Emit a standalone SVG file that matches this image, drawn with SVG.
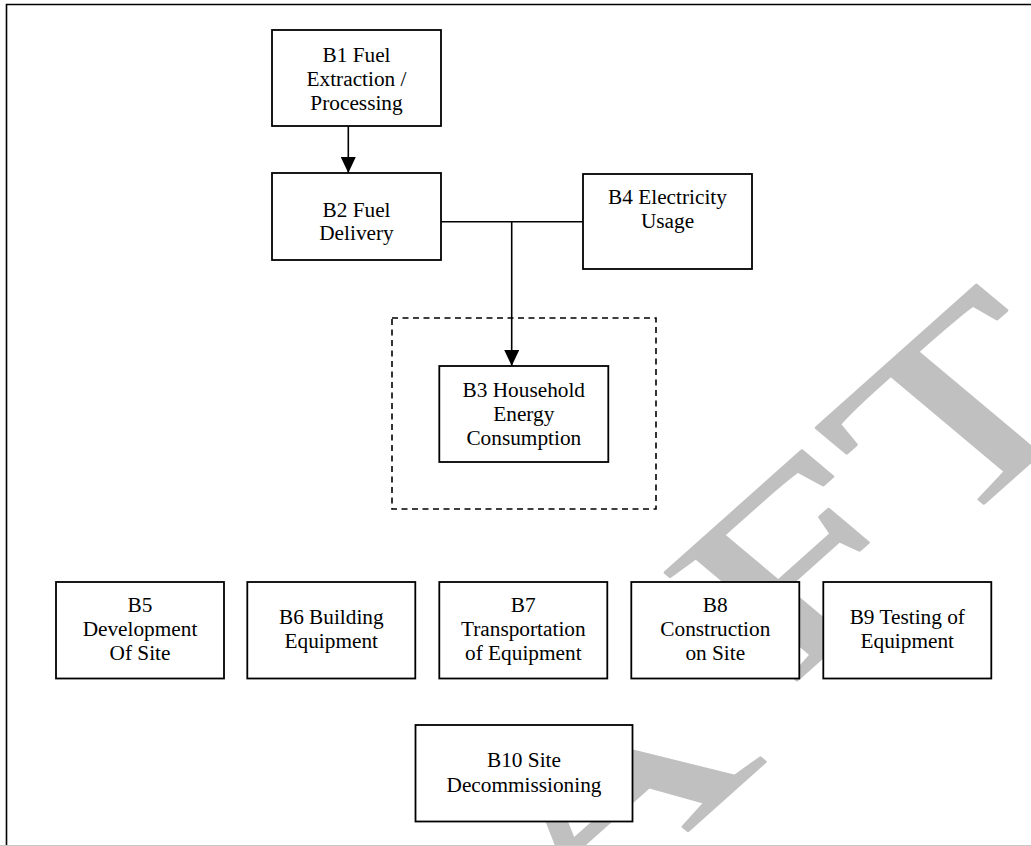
<svg xmlns="http://www.w3.org/2000/svg" width="1031" height="846" viewBox="0 0 1031 846">
<style>
.box{fill:#fff;stroke:#000;stroke-width:1.8}
.lbl{font-family:"Liberation Serif","Times New Roman",serif;font-size:21.3px;fill:#000;text-anchor:middle}
.conn{fill:none;stroke:#000;stroke-width:1.6}
.wm{font-family:"Liberation Serif","Times New Roman",serif;font-size:100px;fill:#c0c0c0;stroke:#c0c0c0;stroke-width:1;stroke-linejoin:round}
</style>
<defs>
<marker id="arr" markerUnits="userSpaceOnUse" markerWidth="16" markerHeight="15" refX="16" refY="7.5" orient="auto">
<path d="M0,0 L16,7.5 L0,15 Z" fill="#000"/>
</marker>
</defs>
<rect width="1031" height="846" fill="#fff"/>
<g id="watermark">
<text class="wm" transform="matrix(2.77,-2.47,1.99,1.67,203,1200)"><tspan x="-50.7" y="47">D</tspan><tspan x="36.5" y="33">R</tspan><tspan x="118.2" y="18.4">A</tspan><tspan x="209" y="2.9">F</tspan><tspan x="266.7" y="0">T</tspan></text>
</g>
<g id="frame">
<path d="M6.5,846 V4.5 H1031" fill="none" stroke="#000" stroke-width="1.6"/>
<line x1="0" y1="845.5" x2="1031" y2="845.5" stroke="#c8c8c8" stroke-width="1"/>
</g>
<g id="container">
<rect x="392" y="318" width="264" height="191" fill="none" stroke="#000" stroke-width="1.6" stroke-dasharray="6 4.5"/>
</g>
<g id="connectors">
<line class="conn" x1="348.3" y1="126" x2="348.3" y2="173" marker-end="url(#arr)"/>
<line class="conn" x1="441" y1="221.7" x2="583" y2="221.7"/>
<line class="conn" x1="511.7" y1="221.7" x2="511.7" y2="366" marker-end="url(#arr)"/>
</g>
<g id="B1">
<rect class="box" x="272" y="30" width="169" height="96"/>
<text class="lbl" x="356.5" y="62">B1 Fuel</text>
<text class="lbl" x="356.5" y="86">Extraction /</text>
<text class="lbl" x="356.5" y="110">Processing</text>
</g>
<g id="B2">
<rect class="box" x="272" y="173" width="169" height="87"/>
<text class="lbl" x="356.5" y="216.7">B2 Fuel</text>
<text class="lbl" x="356.5" y="240">Delivery</text>
</g>
<g id="B4">
<rect class="box" x="583" y="174" width="169" height="95"/>
<text class="lbl" x="667.5" y="204.3">B4 Electricity</text>
<text class="lbl" x="667.5" y="228.3">Usage</text>
</g>
<g id="B3">
<rect class="box" x="439.3" y="366" width="169" height="96"/>
<text class="lbl" x="523.8" y="396.7">B3 Household</text>
<text class="lbl" x="523.8" y="420.7">Energy</text>
<text class="lbl" x="523.8" y="445">Consumption</text>
</g>
<g id="B5">
<rect class="box" x="56" y="582" width="168" height="96.5"/>
<text class="lbl" x="140" y="611.7">B5</text>
<text class="lbl" x="140" y="636">Development</text>
<text class="lbl" x="140" y="660">Of Site</text>
</g>
<g id="B6">
<rect class="box" x="247.3" y="582" width="168" height="96.5"/>
<text class="lbl" x="331.3" y="624">B6 Building</text>
<text class="lbl" x="331.3" y="648.3">Equipment</text>
</g>
<g id="B7">
<rect class="box" x="439.3" y="582" width="168" height="96.5"/>
<text class="lbl" x="523.3" y="611.7">B7</text>
<text class="lbl" x="523.3" y="636">Transportation</text>
<text class="lbl" x="523.3" y="660">of Equipment</text>
</g>
<g id="B8">
<rect class="box" x="631.3" y="582" width="168" height="96.5"/>
<text class="lbl" x="715.3" y="611.7">B8</text>
<text class="lbl" x="715.3" y="636">Construction</text>
<text class="lbl" x="715.3" y="660">on Site</text>
</g>
<g id="B9">
<rect class="box" x="823.3" y="582" width="168" height="96.5"/>
<text class="lbl" x="907.3" y="624">B9 Testing of</text>
<text class="lbl" x="907.3" y="648.3">Equipment</text>
</g>
<g id="B10">
<rect class="box" x="415.5" y="725" width="217" height="96.5"/>
<text class="lbl" x="524" y="766.7">B10 Site</text>
<text class="lbl" x="524" y="791.7">Decommissioning</text>
</g>
</svg>
